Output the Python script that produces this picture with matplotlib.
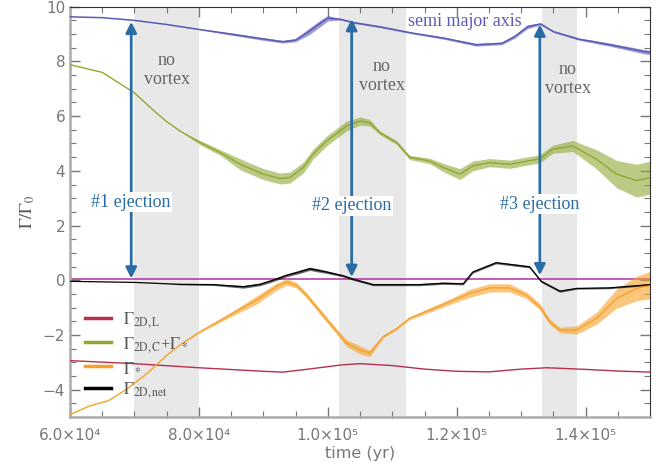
import numpy as np
import matplotlib
matplotlib.use('Agg')
import matplotlib.pyplot as plt
from matplotlib.ticker import MultipleLocator, FixedLocator

plt.rcParams['mathtext.fontset'] = 'stix'

# ---- data (time in yr, torque in Gamma_0) ----
# semi major axis (scaled)
t_semi = np.array([6.0, 6.5, 7.0, 7.5, 8.0, 8.5, 9.0, 9.3, 9.5, 9.7, 9.9, 10.0, 10.2, 10.4,
                   10.8, 11.3, 11.8, 12.3, 12.7, 12.9, 13.1, 13.3, 13.5, 13.9, 14.1, 14.4,
                   14.9, 15.0]) * 1e4
v_semi = np.array([9.63, 9.60, 9.50, 9.35, 9.17, 9.00, 8.82, 8.72, 8.78, 9.08, 9.42, 9.58,
                   9.54, 9.42, 9.27, 9.04, 8.85, 8.61, 8.66, 8.91, 9.27, 9.37, 9.09, 8.81,
                   8.73, 8.60, 8.36, 8.33])
a_semi = np.array([0, 0, 0, 0, 0.01, 0.04, 0.05, 0.05, 0.06, 0.12, 0.12, 0.10, 0.03, 0.03,
                   0.03, 0.03, 0.04, 0.05, 0.05, 0.06, 0.07, 0.04, 0.03, 0.04, 0.05, 0.06,
                   0.08, 0.08])

# Gamma_2D,C + Gamma_*
t_green = np.array([6.0, 6.5, 7.0, 7.3, 7.5, 7.71, 8.02, 8.33, 8.64, 9.0, 9.26, 9.41, 9.62,
                    9.77, 9.98, 10.29, 10.5, 10.65, 10.81, 11.07, 11.27, 11.58, 11.79, 12.05,
                    12.25, 12.51, 12.82, 13.29, 13.49, 13.8, 14.17, 14.48, 14.79, 15.0]) * 1e4
v_green = np.array([7.88, 7.60, 6.85, 6.20, 5.80, 5.45, 5.03, 4.67, 4.24, 3.88, 3.72, 3.75,
                    4.12, 4.61, 5.09, 5.64, 5.82, 5.76, 5.39, 5.03, 4.49, 4.36, 4.12, 3.88,
                    4.18, 4.30, 4.24, 4.44, 4.79, 4.91, 4.42, 3.88, 3.64, 3.75])
a_green = np.array([0, 0, 0, 0, 0, 0, 0.08, 0.1, 0.2, 0.2, 0.2, 0.2, 0.2, 0.18, 0.18, 0.18,
                    0.15, 0.12, 0.07, 0.07, 0.08, 0.1, 0.15, 0.2, 0.18, 0.15, 0.15, 0.15,
                    0.15, 0.2, 0.35, 0.5, 0.6, 0.6])

# Gamma_*
t_orange = np.array([6.0, 6.3, 6.6, 6.9, 7.2, 7.5, 7.71, 8.02, 8.48, 8.89, 9.2, 9.36, 9.51,
                     9.67, 9.88, 10.14, 10.29, 10.5, 10.65, 10.86, 11.07, 11.27, 11.58,
                     11.89, 12.2, 12.51, 12.82, 13.08, 13.29, 13.44, 13.6, 13.86, 14.17,
                     14.48, 14.79, 15.0]) * 1e4
v_orange = np.array([-4.91, -4.60, -4.40, -3.95, -3.40, -2.75, -2.36, -1.88, -1.27, -0.73,
                     -0.24, -0.06, -0.18, -0.55, -1.15, -1.88, -2.30, -2.55, -2.67, -2.06,
                     -1.76, -1.39, -1.09, -0.79, -0.48, -0.28, -0.28, -0.55, -0.97, -1.51,
                     -1.82, -1.82, -1.39, -0.67, -0.30, -0.18])
a_orange = np.array([0, 0, 0, 0, 0, 0, 0, 0.03, 0.08, 0.15, 0.13, 0.12, 0.1, 0.1, 0.1, 0.1,
                     0.12, 0.15, 0.12, 0.05, 0.05, 0.05, 0.08, 0.1, 0.15, 0.15, 0.15, 0.12,
                     0.12, 0.1, 0.1, 0.15, 0.22, 0.35, 0.45, 0.5])

# Gamma_2D,net
t_black = np.array([6.0, 7.0, 7.5, 7.71, 8.22, 8.69, 8.95, 9.15, 9.36, 9.55, 9.72, 9.85,
                    9.98, 10.24, 10.39, 10.7, 11.43, 11.79, 12.1, 12.25, 12.61, 12.82,
                    13.13, 13.31, 13.6, 13.86, 14.37, 15.0]) * 1e4
v_black = np.array([-0.04, -0.08, -0.13, -0.15, -0.16, -0.24, -0.15, 0.0, 0.18, 0.30, 0.42,
                    0.36, 0.30, 0.16, 0.04, -0.16, -0.16, -0.11, -0.13, 0.30, 0.64, 0.58,
                    0.49, -0.04, -0.40, -0.30, -0.28, -0.16])
a_black = np.array([0, 0, 0, 0.02, 0.03, 0.05, 0.05, 0.05, 0.05, 0.06, 0.06, 0.06, 0.05,
                    0.04, 0.04, 0.04, 0.04, 0.04, 0.04, 0.04, 0.04, 0.04, 0.04, 0.04, 0.04,
                    0.03, 0.03, 0.03])

# Gamma_2D,L
t_red = np.array([6.0, 7.0, 8.0, 9.0, 9.3, 9.7, 10.2, 10.5, 11.0, 11.5, 12.0, 12.5, 13.0,
                  13.4, 14.0, 14.5, 15.0]) * 1e4
v_red = np.array([-2.94, -3.05, -3.20, -3.33, -3.36, -3.25, -3.10, -3.05, -3.12, -3.25,
                  -3.33, -3.35, -3.25, -3.20, -3.26, -3.32, -3.36])

zero_level = 0.05

# no-vortex intervals and ejection times
bands = [(7.0e4, 8.0e4), (1.017e5, 1.121e5), (1.332e5, 1.387e5)]
eject_t = [6.95e4, 1.037e5, 1.329e5]
eject_top = [9.45, 9.55, 9.35]
eject_bot = [0.06, 0.12, 0.18]
eject_labels = ['#1 ejection', '#2 ejection', '#3 ejection']
eject_label_y = [2.86, 2.72, 2.78]
novortex_x = [7.5e4, 1.084e5, 1.372e5]
novortex_y = [7.7, 7.48, 7.37]

fig = plt.figure(figsize=(6.56, 4.70), dpi=100)
ax = fig.add_axes([0.1067, 0.1128, 0.8843, 0.8729])

for b in bands:
    ax.axvspan(b[0], b[1], color='#e8e8e8', lw=0, zorder=0)


def wiggly(t, v, a, color, lw=1.0, label=None):
    ax.fill_between(t, v - a, v + a, color=color, alpha=0.6, lw=0, zorder=2)
    ax.plot(t, v, color=color, lw=lw, label=label, zorder=3)


ax.axhline(zero_level, color='#b0309f', lw=1.1, zorder=2)
wiggly(t_semi, v_semi, a_semi, '#5b5bb4', lw=1.1)
ax.plot(t_red, v_red, color='#b4304f', lw=1.0, label=r'$\Gamma_{\rm 2D,L}$', zorder=3)
wiggly(t_green, v_green, a_green, '#8fa832', label=r'$\Gamma_{\rm 2D,C}$+$\Gamma_*$')
wiggly(t_orange, v_orange, a_orange, '#f7a128', label=r'$\Gamma_*$')
wiggly(t_black, v_black, a_black, 'black', lw=0.9, label=r'$\Gamma_{\rm 2D,net}$')

serif = 'Liberation Serif'
for x, yt, yb, lab, ly in zip(eject_t, eject_top, eject_bot, eject_labels, eject_label_y):
    ax.annotate('', xy=(x, yt), xytext=(x, yb),
                arrowprops=dict(arrowstyle='<|-|>', color='#2c6ca4', lw=2.0,
                                mutation_scale=16, shrinkA=0, shrinkB=0), zorder=4)
    ax.text(x, ly, lab, family=serif, fontsize=13, color='#2c6ca4', ha='center',
            va='center', zorder=5,
            bbox=dict(facecolor='white', edgecolor='none', pad=1.0))

for x, y in zip(novortex_x, novortex_y):
    ax.text(x, y, 'no\nvortex', family=serif, fontsize=13, color='#666666',
            ha='center', va='center', linespacing=1.15, zorder=5)

ax.text(1.212e5, 9.45, 'semi major axis', family=serif, fontsize=13, color='#5b5bb4',
        ha='center', va='center', zorder=5)

ax.set_xlim(6.0e4, 1.5e5)
ax.set_ylim(-5, 10)

xt = [6e4, 8e4, 1e5, 1.2e5, 1.4e5]
xt_labels = ['6.0×10⁴', '8.0×10⁴', '1.0×10⁵', '1.2×10⁵', '1.4×10⁵']
ax.xaxis.set_major_locator(FixedLocator(xt))
ax.set_xticklabels(xt_labels)
ax.xaxis.set_minor_locator(MultipleLocator(5000))
ax.yaxis.set_major_locator(MultipleLocator(2))
ax.yaxis.set_minor_locator(MultipleLocator(0.5))
ax.tick_params(which='both', direction='in', top=True, right=True, colors='#777777',
               labelsize=11, labelcolor='#777777')
ax.tick_params(which='major', length=7, width=1.0)
ax.tick_params(which='minor', length=4, width=0.8)
ax.tick_params(axis='x', pad=8)

for s in ['left', 'bottom']:
    ax.spines[s].set_color('#aaaaaa')
    ax.spines[s].set_linewidth(1.8)
for s in ['top', 'right']:
    ax.spines[s].set_color('#333333')
    ax.spines[s].set_linewidth(0.8)

ax.set_xlabel('time (yr)', fontsize=11.5, color='#777777', labelpad=2)
ax.set_ylabel(r'$\Gamma/\Gamma_0$', fontsize=13, color='#555555', labelpad=4)

leg = ax.legend(loc='upper left', bbox_to_anchor=(0.005, 0.29), frameon=False,
                prop={'family': serif, 'size': 12}, handlelength=1.6,
                handletextpad=0.7, labelspacing=0.3, borderaxespad=0.3)
for txt in leg.get_texts():
    txt.set_color('#555555')
for h in leg.get_lines():
    h.set_linewidth(2.5)

fig.savefig('out.png', dpi=100)
